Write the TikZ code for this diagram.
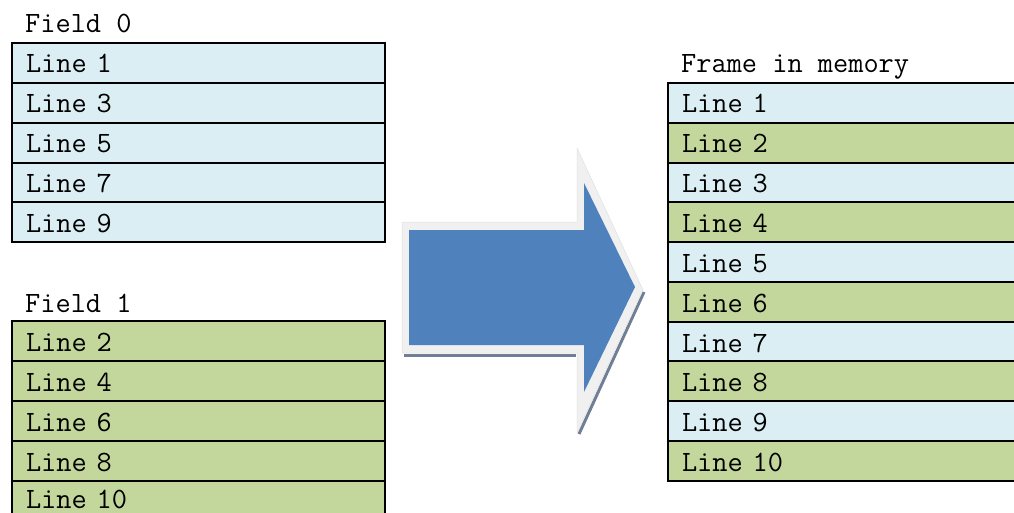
\documentclass[tikz,border=0pt]{standalone}
\definecolor{rowblue}{HTML}{DAEEF3}
\definecolor{rowgreen}{HTML}{C3D69B}
\definecolor{arrowblue}{HTML}{4F81BD}
\definecolor{arrowrim}{HTML}{F0F0F0}
\definecolor{arrowshadow}{HTML}{6F7F96}
\tikzset{
  rowbox/.style={draw=black, line width=2pt, rectangle, anchor=north west,
    minimum height=40pt, inner xsep=14pt, inner ysep=0pt, align=left,
    text height=20pt, text depth=0pt, font=\fontsize{29.5}{32}\selectfont\ttfamily},
  oddrow/.style={rowbox, fill=rowblue},
  evenrow/.style={rowbox, fill=rowgreen},
  leftrow/.style={text width=345pt},
  rightrow/.style={text width=340pt},
  title/.style={anchor=base west, inner sep=0pt, font=\fontsize{29.5}{32}\selectfont\ttfamily}
}
\begin{document}
\begin{tikzpicture}[x=1pt,y=-1pt]
\useasboundingbox (0,0) rectangle (1014,513);
\clip (0,0) rectangle (1014,513);
% Field 0
\node[title] (f0) at (25,33) {Field 0};
\node[oddrow,leftrow] (a1) at (11,42)  {Line 1};
\node[oddrow,leftrow] (a3) at (11,82)  {Line 3};
\node[oddrow,leftrow] (a5) at (11,122) {Line 5};
\node[oddrow,leftrow] (a7) at (11,162) {Line 7};
\node[oddrow,leftrow] (a9) at (11,201) {Line 9};
% Field 1
\node[title] (f1) at (25,312) {Field 1};
\node[evenrow,leftrow] (b2)  at (11,320) {Line 2};
\node[evenrow,leftrow] (b4)  at (11,360) {Line 4};
\node[evenrow,leftrow] (b6)  at (11,400) {Line 6};
\node[evenrow,leftrow] (b8)  at (11,440) {Line 8};
\node[evenrow,leftrow,minimum height=34pt] (b10) at (11,480) {Line 10};
% Frame in memory
\node[title] (fm) at (681,73) {Frame in memory};
\node[oddrow,rightrow]  (c1)  at (667,82)  {Line 1};
\node[evenrow,rightrow] (c2)  at (667,122) {Line 2};
\node[oddrow,rightrow]  (c3)  at (667,162) {Line 3};
\node[evenrow,rightrow] (c4)  at (667,201) {Line 4};
\node[oddrow,rightrow]  (c5)  at (667,241) {Line 5};
\node[evenrow,rightrow] (c6)  at (667,281) {Line 6};
\node[oddrow,rightrow]  (c7)  at (667,321) {Line 7};
\node[evenrow,rightrow] (c8)  at (667,360) {Line 8};
\node[oddrow,rightrow]  (c9)  at (667,400) {Line 9};
\node[evenrow,rightrow] (c10) at (667,440) {Line 10};
% Big arrow
\draw[arrowshadow, line width=3pt] (404,355) -- (576,355);
\draw[arrowshadow, line width=3pt] (644,292) -- (579,434);
\fill[arrowrim, draw=black!12, line width=0.5pt]
  (402,222) -- (577,222) -- (577,148) -- (643,290) -- (577,433) -- (577,353) -- (402,353) -- cycle;
\fill[arrowblue]
  (409,230) -- (584,230) -- (584,183) -- (635,287) -- (584,392) -- (584,345) -- (409,345) -- cycle;
\end{tikzpicture}
\end{document}
